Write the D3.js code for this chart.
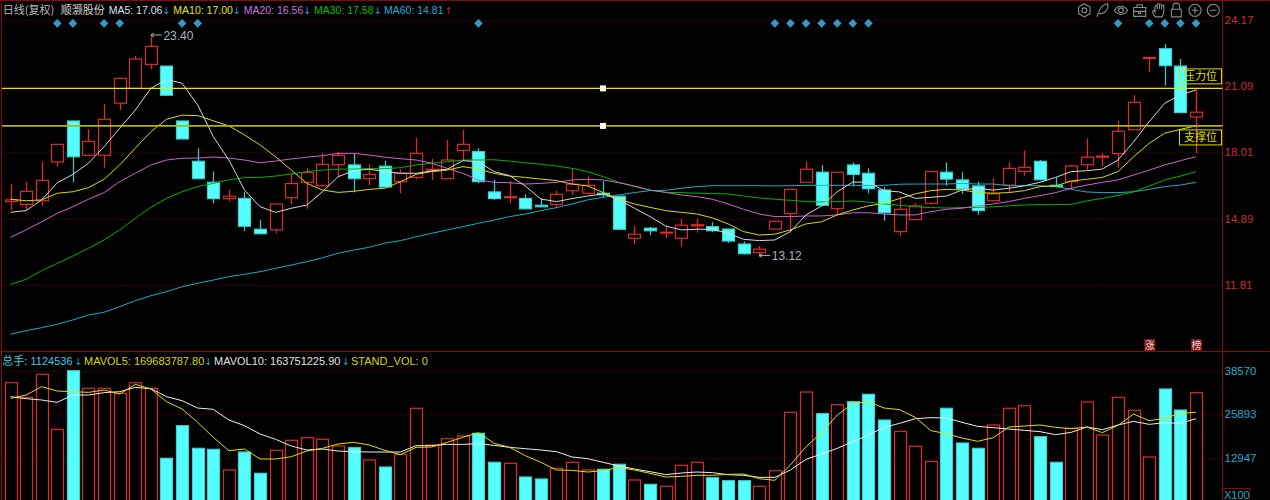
<!DOCTYPE html>
<html>
<head>
<meta charset="utf-8">
<script src="https://cdn.jsdelivr.net/npm/d3@7"></script>
<style>
    html, body { margin: 0; padding: 0; background: #000; overflow: hidden; }
    text { font-family: "Liberation Sans", Arial, "Noto Sans CJK SC", sans-serif; }
    .cjk { font-family: "Noto Sans CJK SC", sans-serif; }
    .arrow { font-family: "DejaVu Sans", sans-serif; }
</style>
</head>
<body>
<div id="chart"></div>
<script>

// candles
const opens = [
    15.70, 15.57, 15.74, 17.55, 19.46, 17.86, 17.86, 20.29, 20.98, 22.10,
    22.02, 19.46, 17.58, 16.60, 15.84, 15.85, 14.41, 14.38, 15.88, 16.60,
    16.44, 17.42, 17.41, 16.77, 17.35, 16.63, 16.83, 17.17, 16.77, 18.09,
    18.03, 16.15, 15.88, 15.85, 15.53, 15.57, 16.21, 16.09, 16.09, 15.95,
    13.99, 14.46, 14.23, 13.99, 14.57, 14.53, 14.42, 13.72, 13.32, 14.42,
    15.14, 16.60, 17.07, 15.37, 17.41, 17.02, 16.24, 14.30, 14.86, 15.62,
    17.07, 16.71, 16.43, 15.74, 16.47, 17.11, 17.58, 16.46, 16.63, 17.42,
    17.77, 17.94, 19.05, 22.37, 22.83, 22.02, 19.65];
const closes = [
    15.78, 16.18, 16.69, 18.37, 17.79, 18.51, 19.54, 21.45, 22.35, 22.94,
    20.66, 18.62, 16.77, 15.84, 15.95, 14.55, 14.20, 15.59, 16.54, 17.05,
    17.44, 17.86, 16.77, 16.97, 16.38, 17.02, 17.95, 17.21, 17.64, 18.37,
    16.63, 15.84, 15.93, 15.36, 15.46, 16.04, 16.51, 16.46, 16.02, 14.41,
    14.18, 14.34, 14.27, 14.60, 14.62, 14.34, 13.86, 13.27, 13.48, 14.78,
    16.27, 17.21, 15.53, 17.07, 16.97, 16.30, 15.18, 15.34, 15.50, 17.10,
    16.75, 16.29, 15.28, 16.06, 17.25, 17.30, 16.72, 16.40, 17.36, 17.77,
    17.82, 18.98, 20.33, 22.42, 22.04, 19.85, 19.87];
const highs = [
    16.51, 16.61, 17.56, 18.37, 19.46, 19.07, 20.25, 21.45, 22.49, 23.40,
    22.02, 19.46, 18.19, 17.10, 16.24, 16.15, 14.84, 15.59, 17.02, 17.25,
    17.95, 18.03, 17.95, 17.44, 17.61, 17.21, 18.68, 17.69, 18.57, 19.04,
    18.19, 16.71, 16.66, 16.04, 15.85, 16.21, 17.22, 16.89, 16.66, 15.95,
    14.56, 14.53, 14.53, 14.89, 14.92, 14.74, 14.42, 13.83, 13.63, 14.78,
    16.27, 17.56, 17.39, 17.07, 17.53, 17.25, 16.37, 15.93, 15.62, 17.10,
    17.53, 17.07, 16.63, 16.79, 17.53, 18.07, 17.64, 16.83, 17.41, 18.65,
    17.95, 19.46, 20.66, 22.42, 23.05, 22.35, 20.94];
const lows = [
    15.31, 15.31, 15.50, 17.33, 16.60, 17.86, 17.28, 19.97, 20.98, 21.88,
    20.66, 18.62, 16.77, 15.62, 15.70, 14.33, 14.20, 14.22, 15.57, 15.36,
    16.40, 16.86, 16.13, 16.47, 16.38, 16.09, 16.74, 16.71, 16.77, 17.64,
    16.55, 15.78, 15.62, 15.36, 15.43, 15.39, 16.01, 16.09, 15.90, 14.41,
    13.72, 14.14, 13.99, 13.60, 14.25, 14.27, 13.78, 13.22, 13.12, 14.42,
    14.28, 16.60, 15.53, 15.08, 16.40, 16.09, 14.81, 14.11, 14.86, 15.56,
    16.44, 16.06, 15.08, 15.74, 16.12, 16.91, 16.72, 16.37, 16.27, 17.17,
    17.36, 17.28, 19.05, 21.73, 21.11, 19.85, 17.95];

// moving averages
const ma5 = [
    15.20, 15.28, 15.78, 16.58, 16.97, 17.49, 18.26, 19.12, 19.97, 20.98,
    21.40, 21.22, 20.21, 18.73, 17.64, 16.24, 15.46, 15.20, 15.39, 15.54,
    16.16, 16.86, 17.14, 17.21, 17.10, 17.02, 17.02, 17.13, 17.21, 17.61,
    17.56, 17.10, 16.91, 16.43, 15.82, 15.70, 15.84, 15.96, 16.06, 15.78,
    15.39, 15.00, 14.56, 14.38, 14.41, 14.41, 14.22, 13.94, 13.88, 13.91,
    14.30, 15.08, 15.50, 16.16, 16.61, 16.61, 16.21, 16.15, 15.85, 15.90,
    15.96, 16.24, 16.32, 16.24, 16.32, 16.44, 16.60, 16.83, 17.10, 17.14,
    17.22, 17.64, 18.49, 19.43, 20.29, 20.67, 20.91];
const ma10 = [
    15.81, 15.74, 15.78, 16.09, 16.16, 16.35, 16.74, 17.41, 18.19, 18.96,
    19.54, 19.73, 19.71, 19.47, 19.23, 18.81, 18.34, 17.79, 17.17, 16.55,
    16.24, 16.13, 16.18, 16.27, 16.32, 16.63, 16.97, 17.10, 17.17, 17.33,
    17.22, 17.02, 16.89, 16.83, 16.75, 16.68, 16.52, 16.43, 16.12, 15.81,
    15.59, 15.43, 15.28, 15.20, 15.12, 14.94, 14.66, 14.30, 14.14, 14.18,
    14.38, 14.66, 14.76, 15.08, 15.31, 15.50, 15.62, 15.84, 16.06, 16.21,
    16.27, 16.24, 16.12, 16.09, 16.12, 16.21, 16.40, 16.43, 16.66, 16.74,
    16.83, 17.10, 17.79, 18.42, 18.89, 19.07, 19.23];
const ma20 = [
    14.04, 14.38, 14.76, 15.15, 15.46, 15.81, 16.12, 16.63, 17.02, 17.41,
    17.64, 17.72, 17.73, 17.78, 17.73, 17.64, 17.51, 17.59, 17.69, 17.77,
    17.84, 17.95, 17.95, 17.87, 17.77, 17.70, 17.64, 17.49, 17.25, 17.02,
    16.71, 16.60, 16.58, 16.52, 16.55, 16.60, 16.71, 16.74, 16.71, 16.58,
    16.43, 16.24, 16.13, 16.01, 15.93, 15.81, 15.59, 15.34, 15.12, 15.00,
    15.00, 15.03, 15.03, 15.08, 15.18, 15.18, 15.12, 15.08, 15.08, 15.23,
    15.34, 15.39, 15.50, 15.59, 15.70, 15.85, 15.98, 16.12, 16.32, 16.47,
    16.60, 16.71, 16.94, 17.17, 17.41, 17.61, 17.79];
const ma30 = [
    11.83, 12.08, 12.48, 12.82, 13.16, 13.52, 13.91, 14.38, 14.92, 15.43,
    15.85, 16.16, 16.40, 16.55, 16.71, 16.82, 16.83, 16.89, 16.99, 17.10,
    17.17, 17.21, 17.22, 17.24, 17.24, 17.28, 17.41, 17.49, 17.56, 17.64,
    17.64, 17.65, 17.59, 17.51, 17.44, 17.36, 17.25, 17.10, 16.86, 16.60,
    16.40, 16.23, 16.13, 16.12, 16.09, 16.07, 16.06, 15.96, 15.87, 15.81,
    15.76, 15.70, 15.68, 15.70, 15.73, 15.67, 15.59, 15.53, 15.46, 15.42,
    15.40, 15.42, 15.43, 15.46, 15.50, 15.54, 15.56, 15.56, 15.57, 15.73,
    15.85, 15.99, 16.16, 16.43, 16.71, 16.89, 17.10];
const ma60 = [
    9.51, 9.68, 9.82, 9.98, 10.18, 10.41, 10.54, 10.80, 11.08, 11.31,
    11.50, 11.73, 11.89, 12.04, 12.20, 12.31, 12.43, 12.59, 12.74, 12.90,
    13.08, 13.29, 13.44, 13.57, 13.76, 13.88, 14.06, 14.22, 14.38, 14.53,
    14.69, 14.84, 15.00, 15.12, 15.28, 15.42, 15.59, 15.78, 15.90, 16.01,
    16.12, 16.21, 16.23, 16.32, 16.40, 16.44, 16.44, 16.44, 16.44, 16.43,
    16.44, 16.46, 16.46, 16.46, 16.46, 16.44, 16.46, 16.51, 16.52, 16.52,
    16.52, 16.55, 16.52, 16.52, 16.44, 16.44, 16.44, 16.40, 16.27, 16.15,
    16.12, 16.12, 16.16, 16.27, 16.40, 16.47, 16.60];

// volume panel
const volumes = [
    35120, 30820, 37600, 21400, 38650, 33470, 33470, 32000, 35120, 33470,
    12870, 22460, 15810, 15510, 9420, 14720, 8450, 15220, 18160, 18930,
    18460, 16490, 15990, 12360, 10300, 14040, 27590, 16780, 18640, 19430,
    20230, 11690, 11390, 7360, 6770, 9920, 11690, 9420, 9630, 11100,
    6480, 5210, 4620, 10800, 11690, 7150, 6270, 6270, 4620, 9210,
    26410, 32380, 26000, 28650, 29530, 31710, 24140, 20810, 16400, 11980,
    27590, 17370, 15810, 22670, 27590, 28350, 19220, 11690, 21700, 29440,
    19720, 30820, 27000, 13250, 33270, 27080, 32180];
const mavol5 = [
    30520, 31500, 33950, 32680, 32480, 32280, 32970, 31790, 34640, 33260,
    29540, 27380, 23450, 19040, 15110, 15600, 12660, 12660, 13340, 15010,
    15800, 17070, 17560, 16780, 15210, 13930, 16090, 16190, 17560, 19040,
    20410, 17270, 16090, 13640, 11680, 9420, 9320, 8830, 9220, 10200,
    9420, 8440, 7360, 7550, 7850, 7850, 8140, 8240, 6870, 6380,
    10890, 16290, 20410, 25610, 28950, 29540, 27670, 27180, 24920, 21000,
    20120, 18840, 17860, 18940, 22080, 22370, 22670, 21980, 21590, 22080,
    20410, 22570, 25900, 23940, 24630, 26100, 26400];
const mavol10 = [
    31010, 30420, 30030, 29340, 31500, 31500, 32190, 32480, 33760, 33360,
    31010, 29830, 27670, 27280, 24140, 22470, 20020, 18450, 16480, 15310,
    15600, 15010, 14820, 14720, 14720, 14720, 16580, 16580, 16970, 16970,
    17170, 16680, 16090, 15700, 15310, 14820, 13250, 12760, 11680, 10600,
    9710, 8930, 8050, 8540, 8830, 8640, 8050, 7850, 7260, 7260,
    9420, 12560, 14130, 15800, 17760, 19720, 21980, 23160, 24530, 24830,
    24730, 23450, 22270, 21880, 21490, 21100, 20710, 19820, 20510, 22080,
    21290, 22670, 23750, 22860, 23350, 23160, 24530];

// ticks, drawn levels, diamonds, tags
const priceTicks = [24.17, 21.09, 18.01, 14.89, 11.81];
const volumeTicks = [38570, 25893, 12947];
const levels = [20.98, 19.23];
const levelLabels = ["压力位", "支撑位"];
const signalDays = [3, 4, 6, 7, 11, 12, 30, 49, 50, 51, 52, 53, 54, 55, 71, 73, 74, 75, 76];
const tagDays = [73, 76];
const tagLabels = ["涨", "榜"];

const RED = "#dc2b2b", CYAN = "#55ffff", FRAME = "#8a0808", GRID = "#990000";

class KLineChart {

    constructor(parentElement) {
        this.parentElement = parentElement;
        this.initVis();
    }

    initVis() {
        let vis = this;
        vis.width = 1270;
        vis.height = 500;
        vis.right = 1222.5;

        vis.svg = d3.select("#" + vis.parentElement).append("svg")
            .attr("width", vis.width)
            .attr("height", vis.height)
            .style("display", "block")
            .style("background", "#000");

        vis.x = d3.scaleLinear().domain([0, 76]).range([10.5, 1196]);
        vis.y = d3.scaleLinear().domain([11.81, 24.17]).range([285, 20]);
        vis.yVol = d3.scaleLinear().domain([0, 38570]).range([502, 371]);

        vis.drawGrid();
        vis.drawFrame();
        vis.drawCandles();
        vis.drawVolume();
        vis.drawLines();
        vis.drawLevels();
        vis.drawAxes();
        vis.drawLegends();
        vis.drawToolbar();
    }

    drawGrid() {
        let vis = this;
        // dotted lines come from the axes tick lines
        [[vis.y, priceTicks], [vis.yVol, volumeTicks]].forEach(([scale, ticks]) => {
            let g = vis.svg.append("g")
                .attr("transform", `translate(${vis.right},0)`)
                .call(d3.axisLeft(scale).tickValues(ticks).tickSize(vis.right - 2).tickFormat(""));
            g.select(".domain").remove();
            g.selectAll("line").attr("stroke", GRID).attr("stroke-dasharray", "1,3");
        });
    }

    drawFrame() {
        let vis = this;
        let frame = vis.svg.append("g").attr("stroke", FRAME).attr("stroke-width", 1);
        frame.append("line").attr("x1", 0).attr("x2", 1270).attr("y1", 0.5).attr("y2", 0.5);
        frame.append("line").attr("x1", 1.5).attr("x2", 1.5).attr("y1", 0).attr("y2", 500);
        frame.append("line").attr("x1", vis.right).attr("x2", vis.right).attr("y1", 0).attr("y2", 500);
        frame.append("line").attr("x1", 0).attr("x2", 1270).attr("y1", 351.5).attr("y2", 351.5);
    }

    drawCandles() {
        let vis = this;
        let days = d3.range(opens.length);
        let up = i => closes[i] >= opens[i];

        let g = vis.svg.append("g");
        g.selectAll(".wick").data(days).enter().append("line")
            .attr("class", "wick")
            .attr("x1", i => Math.round(vis.x(i)) + 0.5)
            .attr("x2", i => Math.round(vis.x(i)) + 0.5)
            .attr("y1", i => vis.y(highs[i]))
            .attr("y2", i => vis.y(lows[i]))
            .attr("stroke", i => up(i) ? RED : "#3cc4c4")
            .attr("stroke-width", 1.3);

        g.selectAll(".body").data(days).enter().append("rect")
            .attr("class", "body")
            .attr("x", i => Math.round(vis.x(i)) - 5.5)
            .attr("width", 12)
            .attr("y", i => vis.y(Math.max(opens[i], closes[i])))
            .attr("height", i => Math.abs(vis.y(opens[i]) - vis.y(closes[i])))
            .attr("fill", i => up(i) ? "#000" : CYAN)
            .attr("stroke", i => up(i) ? RED : "#3fd0d0")
            .attr("stroke-width", 1.2);

        // extreme price notes
        [[9, highs[9]], [48, lows[48]]].forEach(([i, price]) => {
            let px = vis.x(i), py = vis.y(price) - 1.5;
            g.append("path")
                .attr("d", `M${px} ${py}h11M${px + 3} ${py - 2}l-3 2l3 2`)
                .attr("fill", "none")
                .attr("stroke", "#b0b0b0");
            g.append("text")
                .attr("x", px + 12.5)
                .attr("y", py + 4.5)
                .attr("font-size", 12)
                .attr("fill", "#a9b3bb")
                .text(d3.format(".2f")(price));
        });

        // diamonds along the top
        g.selectAll(".signal").data(signalDays).enter().append("path")
            .attr("class", "signal")
            .attr("d", d3.symbol(d3.symbolDiamond2, 48))
            .attr("transform", i => `translate(${vis.x(i)},23.3)`)
            .attr("fill", "#2f9cc8");

        // tags in the corner of the price panel
        tagDays.forEach((i, n) => {
            let px = vis.x(i) + 0.5;
            g.append("rect").attr("x", px - 5.5).attr("y", 339)
                .attr("width", 11).attr("height", 12).attr("fill", "#7a1414");
            g.append("text").attr("class", "cjk")
                .attr("x", px).attr("y", 349)
                .attr("text-anchor", "middle")
                .attr("font-size", 10)
                .attr("fill", "#f0d0d0")
                .text(tagLabels[n]);
        });
    }

    drawVolume() {
        let vis = this;
        let days = d3.range(volumes.length);
        let up = i => closes[i] >= opens[i];

        vis.svg.append("g").selectAll("rect").data(days).enter().append("rect")
            .attr("x", i => Math.round(vis.x(i)) - 5.5)
            .attr("width", 12)
            .attr("y", i => vis.yVol(volumes[i]))
            .attr("height", i => vis.yVol(0) - vis.yVol(volumes[i]))
            .attr("fill", i => up(i) ? "#000" : CYAN)
            .attr("stroke", i => up(i) ? RED : "#3fd0d0")
            .attr("stroke-width", 1.2);
    }

    drawLines() {
        let vis = this;
        let priceLine = d3.line().x((d, i) => vis.x(i)).y(d => vis.y(d));
        let volLine = d3.line().x((d, i) => vis.x(i)).y(d => vis.yVol(d));

        [[ma60, "#12b2c6"], [ma30, "#00b400"], [ma20, "#cc66cc"], [ma10, "#dcdc00"], [ma5, "#d8d8d8"]]
            .forEach(([values, color]) => {
                vis.svg.append("path")
                    .datum(values)
                    .attr("fill", "none")
                    .attr("stroke", color)
                    .attr("stroke-width", 1)
                    .attr("d", priceLine);
            });

        [[mavol10, "#eeeeee"], [mavol5, "#e0e000"]].forEach(([values, color]) => {
            vis.svg.append("path")
                .datum(values)
                .attr("fill", "none")
                .attr("stroke", color)
                .attr("stroke-width", 1)
                .attr("d", volLine);
        });
    }

    drawLevels() {
        let vis = this;
        levels.forEach((level, i) => {
            let py = vis.y(level);
            vis.svg.append("line")
                .attr("x1", 2).attr("x2", vis.right)
                .attr("y1", py).attr("y2", py)
                .attr("stroke", i === 0 ? "#e8e800" : "#b4b400")
                .attr("stroke-width", i === 0 ? 1.2 : 1.8);
            vis.svg.append("rect")
                .attr("x", 600).attr("y", py - 3)
                .attr("width", 6).attr("height", 6)
                .attr("fill", "#fff");

            // label sits above the first line and below the second
            let top = i === 0 ? py - 19.5 : py + 4;
            vis.svg.append("rect")
                .attr("x", 1179.5).attr("y", top)
                .attr("width", 42).attr("height", 15)
                .attr("fill", "none")
                .attr("stroke", "#dcdc00");
            vis.svg.append("text").attr("class", "cjk")
                .attr("x", 1200.5).attr("y", top + 11.5)
                .attr("text-anchor", "middle")
                .attr("font-size", 11)
                .attr("fill", "#e0e000")
                .text(levelLabels[i]);
        });
    }

    drawAxes() {
        let vis = this;
        let priceAxis = d3.axisRight(vis.y).tickValues(priceTicks).tickSize(0).tickPadding(2)
            .tickFormat(d3.format(".2f"));
        let volAxis = d3.axisRight(vis.yVol).tickValues(volumeTicks).tickSize(0).tickPadding(2)
            .tickFormat(d3.format("d"));

        [[priceAxis, "#cc2e2a"], [volAxis, "#22aacc"]].forEach(([axis, color]) => {
            let g = vis.svg.append("g")
                .attr("transform", `translate(${vis.right},0)`)
                .call(axis);
            g.select(".domain").remove();
            g.selectAll("text")
                .attr("fill", color)
                .attr("font-size", 11.5)
                .attr("font-family", "Liberation Sans");
        });

        vis.svg.append("rect")
            .attr("x", 1222.5).attr("y", 488.5)
            .attr("width", 27).attr("height", 12)
            .attr("fill", "none")
            .attr("stroke", FRAME);
        vis.svg.append("text")
            .attr("x", 1224).attr("y", 499)
            .attr("font-size", 11)
            .attr("fill", "#22aacc")
            .text("X100");
    }

    drawLegends() {
        let vis = this;
        let put = (x, y, str, color, cls, size) => {
            vis.svg.append("text")
                .attr("class", cls || null)
                .attr("x", x).attr("y", y)
                .attr("font-size", size || (cls === "arrow" ? 9.5 : 11))
                .attr("fill", color)
                .text(str);
        };
        let blue = "#2b9fd8";

        put(2.7, 14, "日线(复权)", "#b8b8b8", "cjk");
        put(60.7, 14, "顺灏股份", "#d0d0d0", "cjk");
        put(108.7, 14, "MA5: 17.06", "#d8e0e8", null, 10.5);
        put(162.5, 14, "↓", blue, "arrow");
        put(173.3, 14, "MA10: 17.00", "#e6e600", null, 10.5);
        put(233, 14, "↓", blue, "arrow");
        put(243.7, 14, "MA20: 16.56", "#d070e0", null, 10.5);
        put(303.5, 14, "↓", blue, "arrow");
        put(314, 14, "MA30: 17.58", "#00c000", null, 10.5);
        put(374, 14, "↓", blue, "arrow");
        put(384, 14, "MA60: 14.81", "#18b0d8", null, 10.5);
        put(444.5, 14, "↑", "#d02020", "arrow");

        let y = 365;
        put(2.3, y, "总手:", "#40d0e0", "cjk");
        put(30.5, y, "1124536", "#40c8e8");
        put(74.5, y, "↓", blue, "arrow");
        put(84, y, "MAVOL5: 169683787.80", "#d8d800");
        put(204.5, y, "↓", blue, "arrow");
        put(214, y, "MAVOL10: 163751225.90", "#e0e0e0");
        put(342, y, "↓", blue, "arrow");
        put(351, y, "STAND_VOL: 0", "#d8d800");
    }

    drawToolbar() {
        let vis = this;
        let ring = "M5.5 0A5.5 5.5 0 1 1 -5.5 0A5.5 5.5 0 1 1 5.5 0";
        let icons = [
            [1084.3, "M0 -6L5.2 -3V3L0 6L-5.2 3V-3ZM2.2 0A2.2 2.2 0 1 1 -2.2 0A2.2 2.2 0 1 1 2.2 0"],
            [1102.3, "M-5 6L-3 1C-2 -3 2 -6 5 -6C6 -2 3 3 -1 3L-3 3"],
            [1121, "M-6 0C-3 -5 3 -5 6 0C3 5 -3 5 -6 0ZM2.2 0A2.2 2.2 0 1 1 -2.2 0A2.2 2.2 0 1 1 2.2 0"],
            [1139.7, "M-5.5 -2.5H5.5V5.5H-5.5ZM-2.5 -2.5V-5H2.5V-2.5M-5.5 1H5.5M-1 1V3H1V1"],
            [1158.3, "M-3 6L-5.5 1M-5.5 1L-4 0L-3 1.5V-4M-1 -1V-6M1 -1V-5.5M3 -1V-4.5M-3 -4H-1M-1 -6H1M1 -5.5H3M3 -4.5H5V2L3.5 6H-3"],
            [1176.3, "M-4.5 -1H4.5V6H-4.5ZM-3 -1V-3.5A3 3 0 0 1 3 -3.5V-1"],
            [1195, ring + "M-3 0H3M0 -3V3"],
            [1213.3, ring + "M-3 0H3"]
        ];
        vis.svg.append("g").selectAll("path").data(icons).enter().append("path")
            .attr("transform", d => `translate(${d[0]},10.3) scale(1.1)`)
            .attr("d", d => d[1])
            .attr("fill", "none")
            .attr("stroke", "#8c8c8c")
            .attr("stroke-width", 1);
    }
}

new KLineChart("chart");

</script>
</body>
</html>
